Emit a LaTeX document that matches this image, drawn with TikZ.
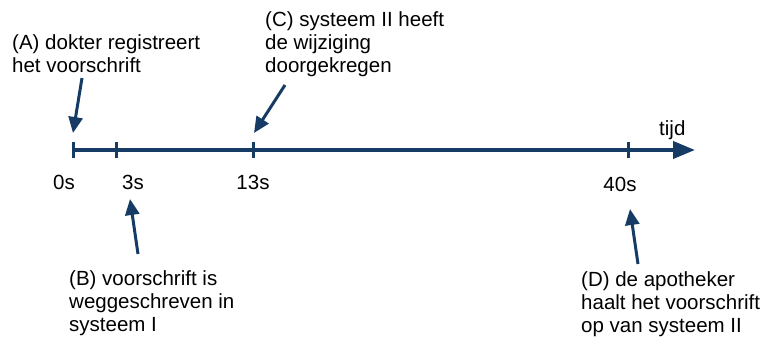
\documentclass[tikz,border=0pt]{standalone}
\usepackage{fontspec}
\setmainfont{Liberation Sans}
\usetikzlibrary{arrows.meta}
\definecolor{navy}{RGB}{22,60,102}

\begin{document}
\begin{tikzpicture}[x=1pt,y=-1pt,
  txt/.style={font=\fontsize{20.5}{23.3}\selectfont, inner sep=0pt,
    align=left, anchor=base west, text=black},
  ticklbl/.style={font=\fontsize{20.5}{23.3}\selectfont, inner sep=0pt,
    anchor=base, text=black},
  axis/.style={draw=navy, line width=4pt, -{Triangle[length=22pt,width=17pt]}},
  tickmark/.style={draw=navy, line width=3pt},
  pointer/.style={draw=navy, line width=3pt, -{Triangle[length=16pt,width=14pt]}}]
\useasboundingbox (0,0) rectangle (767,340);

% time axis
\coordinate (t0) at (73,150);
\coordinate (t3) at (116,150);
\coordinate (t13) at (253,150);
\coordinate (t40) at (628,150);
\coordinate (tend) at (695,150);
\draw[axis] (t0) -- (tend);
\foreach \t in {t0,t3,t13,t40}
  \draw[tickmark] ([yshift=8pt]\t) -- ([yshift=-8pt]\t);

% tick labels
\node[ticklbl] (l0) at (64,189) {0s};
\node[ticklbl] (l3) at (133,189) {3s};
\node[ticklbl] (l13) at (253,189) {13s};
\node[ticklbl] (l40) at (620,191) {40s};
\node[txt] (tijd) at (659,135) {tijd};

% events (anchored at the baseline of the last line)
\node[txt] (A) at (12,72.3) {(A) dokter registreert\\het voorschrift};
\node[txt] (C) at (265,72.6) {(C) systeem II heeft\\de wijziging\\doorgekregen};
\node[txt] (B) at (69,331.6) {(B) voorschrift is\\weggeschreven in\\systeem I};
\node[txt] (D) at (581,332.6) {(D) de apotheker\\haalt het voorschrift\\op van systeem II};

% pointers
\coordinate (pa) at (82,78);
\coordinate (ta) at (73,133);
\coordinate (pc) at (285,85);
\coordinate (tc) at (254,133);
\coordinate (pb) at (138,254);
\coordinate (tb) at (130,199);
\coordinate (pd) at (638,264);
\coordinate (td) at (630,209);
\draw[pointer] (pa) -- (ta);
\draw[pointer] (pc) -- (tc);
\draw[pointer] (pb) -- (tb);
\draw[pointer] (pd) -- (td);
\end{tikzpicture}
\end{document}
